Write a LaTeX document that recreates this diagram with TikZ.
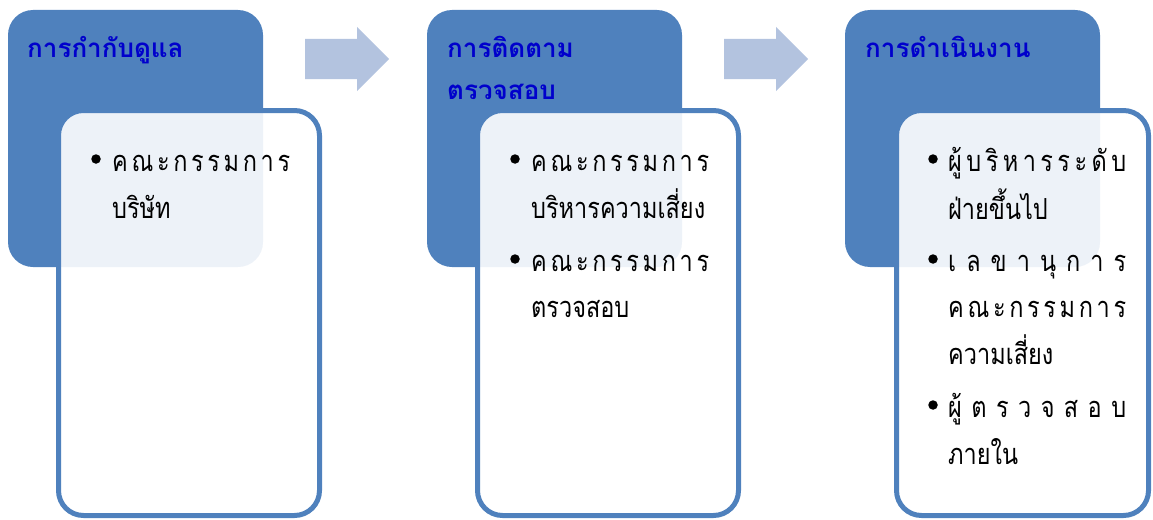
\documentclass[tikz,border=0pt]{standalone}
\usepackage{fontspec}
\newfontfamily\thaifont[Script=Thai]{Loma}
\newfontfamily\thainarrow[Script=Thai, FakeStretch=0.81]{Loma}
\definecolor{myblue}{HTML}{4F81BD}
\definecolor{arrowblue}{HTML}{B3C3DF}
\definecolor{headblue}{RGB}{0,0,204}
\tikzset{
  bluebox/.style={fill=myblue, draw=none, rounded corners=25pt, inner sep=0pt, minimum width=255pt, minimum height=257pt},
  whitebox/.style={fill=white, fill opacity=0.9, draw=myblue, line width=5pt, rounded corners=25pt, inner sep=0pt, minimum height=405pt},
  headtxt/.style={anchor=base west, inner sep=0pt, text=headblue, font=\thaifont\bfseries\fontsize{26}{26}\selectfont},
  bodytxt/.style={anchor=base west, inner sep=0pt, text=black, font=\thainarrow\fontsize{29}{29}\selectfont},
  bulletdot/.style={circle, fill=black, inner sep=0pt, minimum size=9.5pt},
  flowarrow/.style={fill=arrowblue, draw=none}
}
\newcommand{\sprd}[1]{\makebox[178pt][s]{#1}}
\begin{document}
\begin{tikzpicture}[x=1pt,y=-1pt]
\useasboundingbox (0,0) rectangle (1153,519);
% header boxes
\node[bluebox] (h1) at (135.5,138.5) {};
\node[bluebox] (h2) at (554.5,138.5) {};
\node[bluebox] (h3) at (972.5,138.5) {};
% arrows
\fill[flowarrow] (305,39) -- (357,39) -- (357,27) -- (389,59) -- (357,91) -- (357,79) -- (305,79) -- cycle;
\fill[flowarrow] (724,39) -- (776,39) -- (776,27) -- (808,59) -- (776,91) -- (776,79) -- (724,79) -- cycle;
% content boxes
\node[whitebox, minimum width=261pt] (b1) at (189,313) {};
\node[whitebox, minimum width=261pt] (b2) at (608,313) {};
\node[whitebox, minimum width=252pt] (b3) at (1022.5,313) {};
% headers
\node[headtxt] (t1) at (27,57) {การกำกับดูแล};
\node[headtxt] (t2a) at (447,57) {การติดตาม};
\node[headtxt] (t2b) at (447,99) {ตรวจสอบ};
\node[headtxt] (t3) at (865,57) {การดำเนินงาน};
% group 1
\node[bulletdot] (d11) at (96,159) {};
\node[bodytxt] (l11) at (112,171) {\sprd{ค\hfill ณ\hfill ะ\hfill ก\hfill ร\hfill ร\hfill ม\hfill ก\hfill า\hfill ร}};
\node[bodytxt] (l12) at (112,218) {บริษัท};
% group 2
\node[bulletdot] (d21) at (515,159) {};
\node[bodytxt] (l21) at (531,171) {\sprd{ค\hfill ณ\hfill ะ\hfill ก\hfill ร\hfill ร\hfill ม\hfill ก\hfill า\hfill ร}};
\node[bodytxt] (l22) at (531,218) {บริหารความเสี่ยง};
\node[bulletdot] (d22) at (515,259) {};
\node[bodytxt] (l23) at (531,271) {\sprd{ค\hfill ณ\hfill ะ\hfill ก\hfill ร\hfill ร\hfill ม\hfill ก\hfill า\hfill ร}};
\node[bodytxt] (l24) at (531,317) {ตรวจสอบ};
% group 3
\node[bulletdot] (d31) at (933,159) {};
\node[bodytxt] (l31) at (948,171) {\sprd{ผู้\hfill บ\hfill ริ\hfill ห\hfill า\hfill ร\hfill ร\hfill ะ\hfill ดั\hfill บ}};
\node[bodytxt] (l32) at (948,219) {ฝ่ายขึ้นไป};
\node[bulletdot] (d32) at (933,259) {};
\node[bodytxt] (l33) at (948,271) {\sprd{เ\hfill ล\hfill ข\hfill า\hfill นุ\hfill ก\hfill า\hfill ร}};
\node[bodytxt] (l34) at (948,317) {\sprd{ค\hfill ณ\hfill ะ\hfill ก\hfill ร\hfill ร\hfill ม\hfill ก\hfill า\hfill ร}};
\node[bodytxt] (l35) at (948,364) {ความเสี่ยง};
\node[bulletdot] (d33) at (933,405) {};
\node[bodytxt] (l36) at (948,417) {\sprd{ผู้\hfill ต\hfill ร\hfill ว\hfill จ\hfill ส\hfill อ\hfill บ}};
\node[bodytxt] (l37) at (948,464) {ภายใน};
\end{tikzpicture}
\end{document}
